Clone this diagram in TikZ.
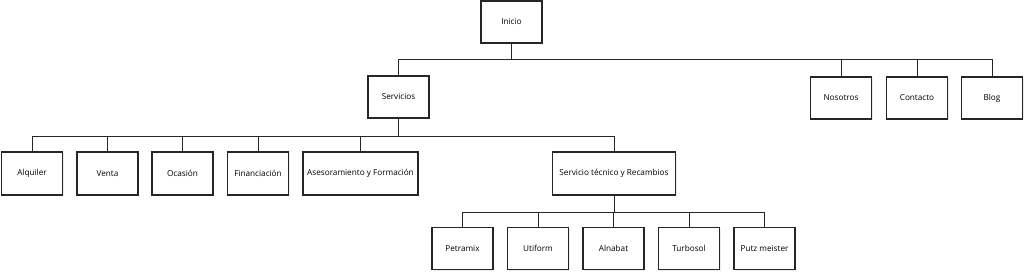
\documentclass[tikz,border=0pt]{standalone}
\usepackage{fontspec}
\setmainfont{Open Sans}
\usetikzlibrary{shadows}
\begin{document}
\begin{tikzpicture}[x=1pt,y=-1pt,
  box/.style={draw=black!85, line width=1.4pt, fill=white, minimum height=42pt,
    minimum width=61pt, inner sep=2pt, font=\fontsize{8.2}{9}\selectfont,
    drop shadow={opacity=0.15, shadow xshift=1pt, shadow yshift=-1.2pt}},
  link/.style={draw=black!85, line width=1pt}]
\useasboundingbox (0,0) rectangle (1024,271);
% level 0
\node[box] (inicio) at (511.5,22) {Inicio};
% level 1
\node[box] (servicios) at (398.5,97) {Servicios};
\node[box] (nosotros) at (841,98) {Nosotros};
\node[box] (contacto) at (917,98) {Contacto};
\node[box] (blog) at (992,98) {Blog};
% level 2
\node[box, minimum height=43pt] (alquiler) at (32,173.5) {Alquiler};
\node[box, minimum height=43pt] (venta) at (107.5,173.5) {Venta};
\node[box, minimum height=43pt] (ocasion) at (182.5,173.5) {Ocasión};
\node[box, minimum height=43pt] (financiacion) at (258,173.5) {Financiación};
\node[box, minimum height=43pt, minimum width=115pt] (asesoramiento) at (360.5,173.5) {Asesoramiento y Formación};
\node[box, minimum height=43pt, minimum width=123pt] (tecnico) at (614,173.5) {Servicio técnico y Recambios};
% level 3
\node[box] (petramix) at (462.5,248.5) {Petramix};
\node[box] (utiform) at (538,248.5) {Utiform};
\node[box] (alnabat) at (613.5,248.5) {Alnabat};
\node[box] (turbosol) at (689,248.5) {Turbosol};
\node[box] (putz) at (764.5,248.5) {Putz meister};
% connectors
\foreach \c in {servicios,nosotros,contacto,blog}
  \draw[link] (inicio.south) -- ++(0,16) -| (\c.north);
\foreach \c in {alquiler,venta,ocasion,financiacion,asesoramiento,tecnico}
  \draw[link] (servicios.south) -- ++(0,18) -| (\c.north);
\foreach \c in {petramix,utiform,alnabat,turbosol,putz}
  \draw[link] (tecnico.south) -- ++(0,16.5) -| (\c.north);
\end{tikzpicture}
\end{document}
